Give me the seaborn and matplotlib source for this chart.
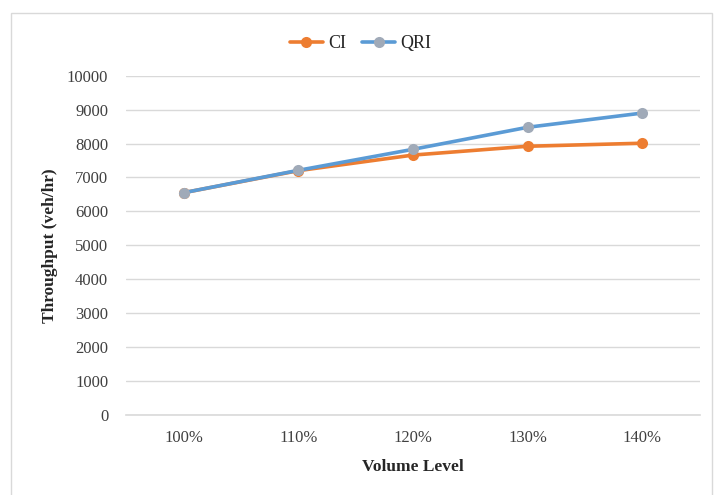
import matplotlib
matplotlib.use("Agg")
import matplotlib.pyplot as plt
import seaborn as sns
import pandas as pd
from matplotlib.patches import Rectangle

levels = ["100%", "110%", "120%", "130%", "140%"]
ci = [6550, 7200, 7660, 7920, 8010]
qri = [6550, 7210, 7830, 8480, 8900]

df = pd.DataFrame({
    "level": levels * 2,
    "value": ci + qri,
    "series": ["CI"] * 5 + ["QRI"] * 5,
})

sns.set_theme(style="white")
plt.rcParams["font.family"] = ["Liberation Serif", "DejaVu Serif"]

fig = plt.figure(figsize=(7.17, 4.95), dpi=100)
ax = fig.add_axes([0.176, 0.162, 0.800, 0.685])

palette = {"CI": "#ED7D31", "QRI": "#5B9BD5"}
sns.lineplot(data=df, x="level", y="value", hue="series", palette=palette,
             marker="o", markersize=8, linewidth=2.6, ax=ax, sort=False,
             markeredgewidth=0)

lines = [l for l in ax.get_lines() if len(l.get_xdata()) == 5]
if len(lines) >= 2:
    lines[1].set_markerfacecolor("#A0AAB8")
    lines[1].set_markeredgecolor("#A0AAB8")

ax.set_ylim(0, 10000)
ax.set_xlim(-0.5, 4.5)
ax.set_yticks(range(0, 10001, 1000))
ax.yaxis.grid(True, color="#D9D9D9", linewidth=1)
ax.set_axisbelow(True)
for s in ["top", "right", "left"]:
    ax.spines[s].set_visible(False)
ax.spines["bottom"].set_color("#D9D9D9")
ax.spines["bottom"].set_linewidth(1.2)
ax.tick_params(axis="both", length=0, labelsize=12, colors="#404040")
ax.tick_params(axis="y", pad=13)
ax.tick_params(axis="x", pad=11)

ax.set_xlabel("Volume Level", fontsize=12.5, fontweight="bold", labelpad=9, color="#262626")
ax.set_ylabel("Throughput (veh/hr)", fontsize=12.5, fontweight="bold", labelpad=6, color="#262626")

handles, labels = ax.get_legend_handles_labels()
if ax.get_legend() is not None:
    ax.get_legend().remove()
if len(handles) >= 2:
    handles[1].set_markerfacecolor("#A0AAB8")
    handles[1].set_markeredgecolor("#A0AAB8")
fig.legend(handles, labels, loc="upper center", bbox_to_anchor=(0.503, 0.962), ncol=2,
           frameon=False, fontsize=13, handlelength=1.8, columnspacing=0.9, handletextpad=0.3)

fig.patches.append(Rectangle((0.0153, -0.02), 0.978, 0.9937, transform=fig.transFigure,
                             fill=False, edgecolor="#D9D9D9", linewidth=1))

fig.savefig("out.png", dpi=100)
